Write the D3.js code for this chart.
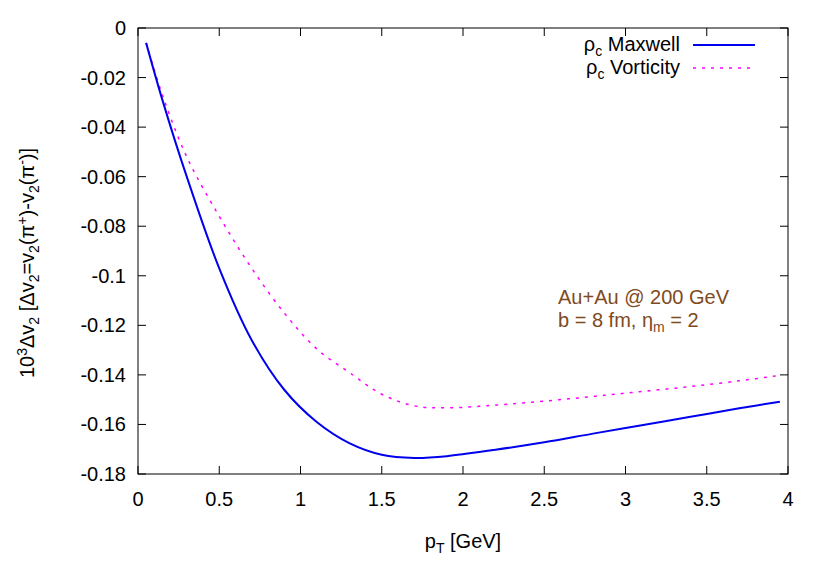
<!DOCTYPE html>
<html><head><meta charset="utf-8">
<script src="https://cdn.jsdelivr.net/npm/d3@7"></script>
<style>body{margin:0;background:#fff}text{font-family:"Liberation Sans",Arial,sans-serif}</style>
</head><body><svg id="c" width="830" height="581"></svg>
<script>
const xTicks = [0, 0.5, 1, 1.5, 2, 2.5, 3, 3.5, 4];
const yTicks = [0, -0.02, -0.04, -0.06, -0.08, -0.1, -0.12, -0.14, -0.16, -0.18];
const ptMaxwell = [0.05, 0.15, 0.3, 0.5, 0.7, 0.9, 1.1, 1.3, 1.5, 1.7, 1.9, 2.2, 2.5, 2.8, 3.1, 3.4, 3.7, 3.95];
const dvMaxwell = [-0.006, -0.029, -0.060, -0.097, -0.126, -0.146, -0.159, -0.1675, -0.1722, -0.1735, -0.1728, -0.1702, -0.1672, -0.1637, -0.1603, -0.1569, -0.1535, -0.1508];
const ptVort = [0.05, 0.15, 0.3, 0.5, 0.7, 0.9, 1.1, 1.3, 1.5, 1.7, 1.9, 2.2, 2.5, 2.8, 3.1, 3.4, 3.7, 3.95];
const dvVort = [-0.006, -0.027, -0.052, -0.076, -0.097, -0.115, -0.1295, -0.139, -0.1478, -0.1525, -0.1533, -0.1522, -0.1506, -0.1487, -0.1467, -0.1447, -0.1424, -0.1402];

const svg = d3.select("#c");
const L = 138, R = 788, T = 28, B = 474;
const x = d3.scaleLinear().domain([0, 4]).range([L, R]);
const y = d3.scaleLinear().domain([-0.18, 0]).range([B, T]);

svg.append("rect").attr("x", L).attr("y", T).attr("width", R - L).attr("height", B - T)
  .attr("fill", "none").attr("stroke", "#000").attr("stroke-width", 1);

const fs = 20;
const gx = svg.append("g");
xTicks.forEach(t => {
  gx.append("line").attr("x1", x(t)).attr("x2", x(t)).attr("y1", B).attr("y2", B - 8).attr("stroke", "#000");
  gx.append("line").attr("x1", x(t)).attr("x2", x(t)).attr("y1", T).attr("y2", T + 8).attr("stroke", "#000");
  gx.append("text").attr("x", x(t)).attr("y", B + 32).attr("text-anchor", "middle").attr("font-size", fs).text(t);
});
yTicks.forEach(t => {
  gx.append("line").attr("x1", L).attr("x2", L + 8).attr("y1", y(t)).attr("y2", y(t)).attr("stroke", "#000");
  gx.append("line").attr("x1", R).attr("x2", R - 8).attr("y1", y(t)).attr("y2", y(t)).attr("stroke", "#000");
  gx.append("text").attr("x", L - 12).attr("y", y(t) + 7).attr("text-anchor", "end").attr("font-size", fs).text(t);
});

const line = d3.line().x(d => x(d[0])).y(d => y(d[1])).curve(d3.curveCatmullRom);
svg.append("path").datum(d3.zip(ptVort, dvVort)).attr("d", line).attr("fill", "none")
  .attr("stroke", "#ff00ff").attr("stroke-width", 1.5).attr("stroke-dasharray", "3,6");
svg.append("path").datum(d3.zip(ptMaxwell, dvMaxwell)).attr("d", line).attr("fill", "none")
  .attr("stroke", "#0000ee").attr("stroke-width", 2);

// legend
const leg = [["Maxwell", "#0000ee", null, 45], ["Vorticity", "#ff00ff", "3,6", 68]];
leg.forEach(([name, c, dash, ly]) => {
  const t = svg.append("text").attr("x", 680).attr("y", ly + 6).attr("text-anchor", "end").attr("font-size", fs);
  t.append("tspan").text("ρ");
  t.append("tspan").attr("font-size", 14).attr("dy", 5).text("c");
  t.append("tspan").attr("dy", -5).text(" " + name);
  svg.append("line").attr("x1", 693).attr("x2", 755).attr("y1", ly).attr("y2", ly)
    .attr("stroke", c).attr("stroke-width", dash ? 1.5 : 2).attr("stroke-dasharray", dash);
});

// annotation
const brown = "#7f4a1e";
svg.append("text").attr("x", 558).attr("y", 304).attr("font-size", fs).attr("fill", brown).text("Au+Au @ 200 GeV");
const a2 = svg.append("text").attr("x", 558).attr("y", 327).attr("font-size", fs).attr("fill", brown);
a2.append("tspan").text("b = 8 fm, η");
a2.append("tspan").attr("font-size", 14).attr("dy", 5).text("m");
a2.append("tspan").attr("dy", -5).text(" = 2");

// x label
const xl = svg.append("text").attr("x", x(2)).attr("y", 548).attr("text-anchor", "middle").attr("font-size", fs);
xl.append("tspan").text("p");
xl.append("tspan").attr("font-size", 14).attr("dy", 5).text("T");
xl.append("tspan").attr("dy", -5).text(" [GeV]");

// y label
const yl = svg.append("text").attr("transform", `translate(34,${(T + B) / 2 + 12}) rotate(-90)`)
  .attr("text-anchor", "middle").attr("font-size", fs);
const parts = [["10", 0, null], ["3", -7, 14], ["Δv", 7, null], ["2", 5, 14], [" [Δv", -5, null], ["2", 5, 14],
  ["=v", -5, null], ["2", 5, 14], ["(π", -5, null], ["+", -7, 14], [")-v", 7, null], ["2", 5, 14], ["(π", -5, null], ["-", -7, 14], [")]", 7, null]];
parts.forEach(([s, dy, f]) => {
  const ts = yl.append("tspan").attr("dy", dy).text(s);
  if (f) ts.attr("font-size", f);
});
</script></body></html>
